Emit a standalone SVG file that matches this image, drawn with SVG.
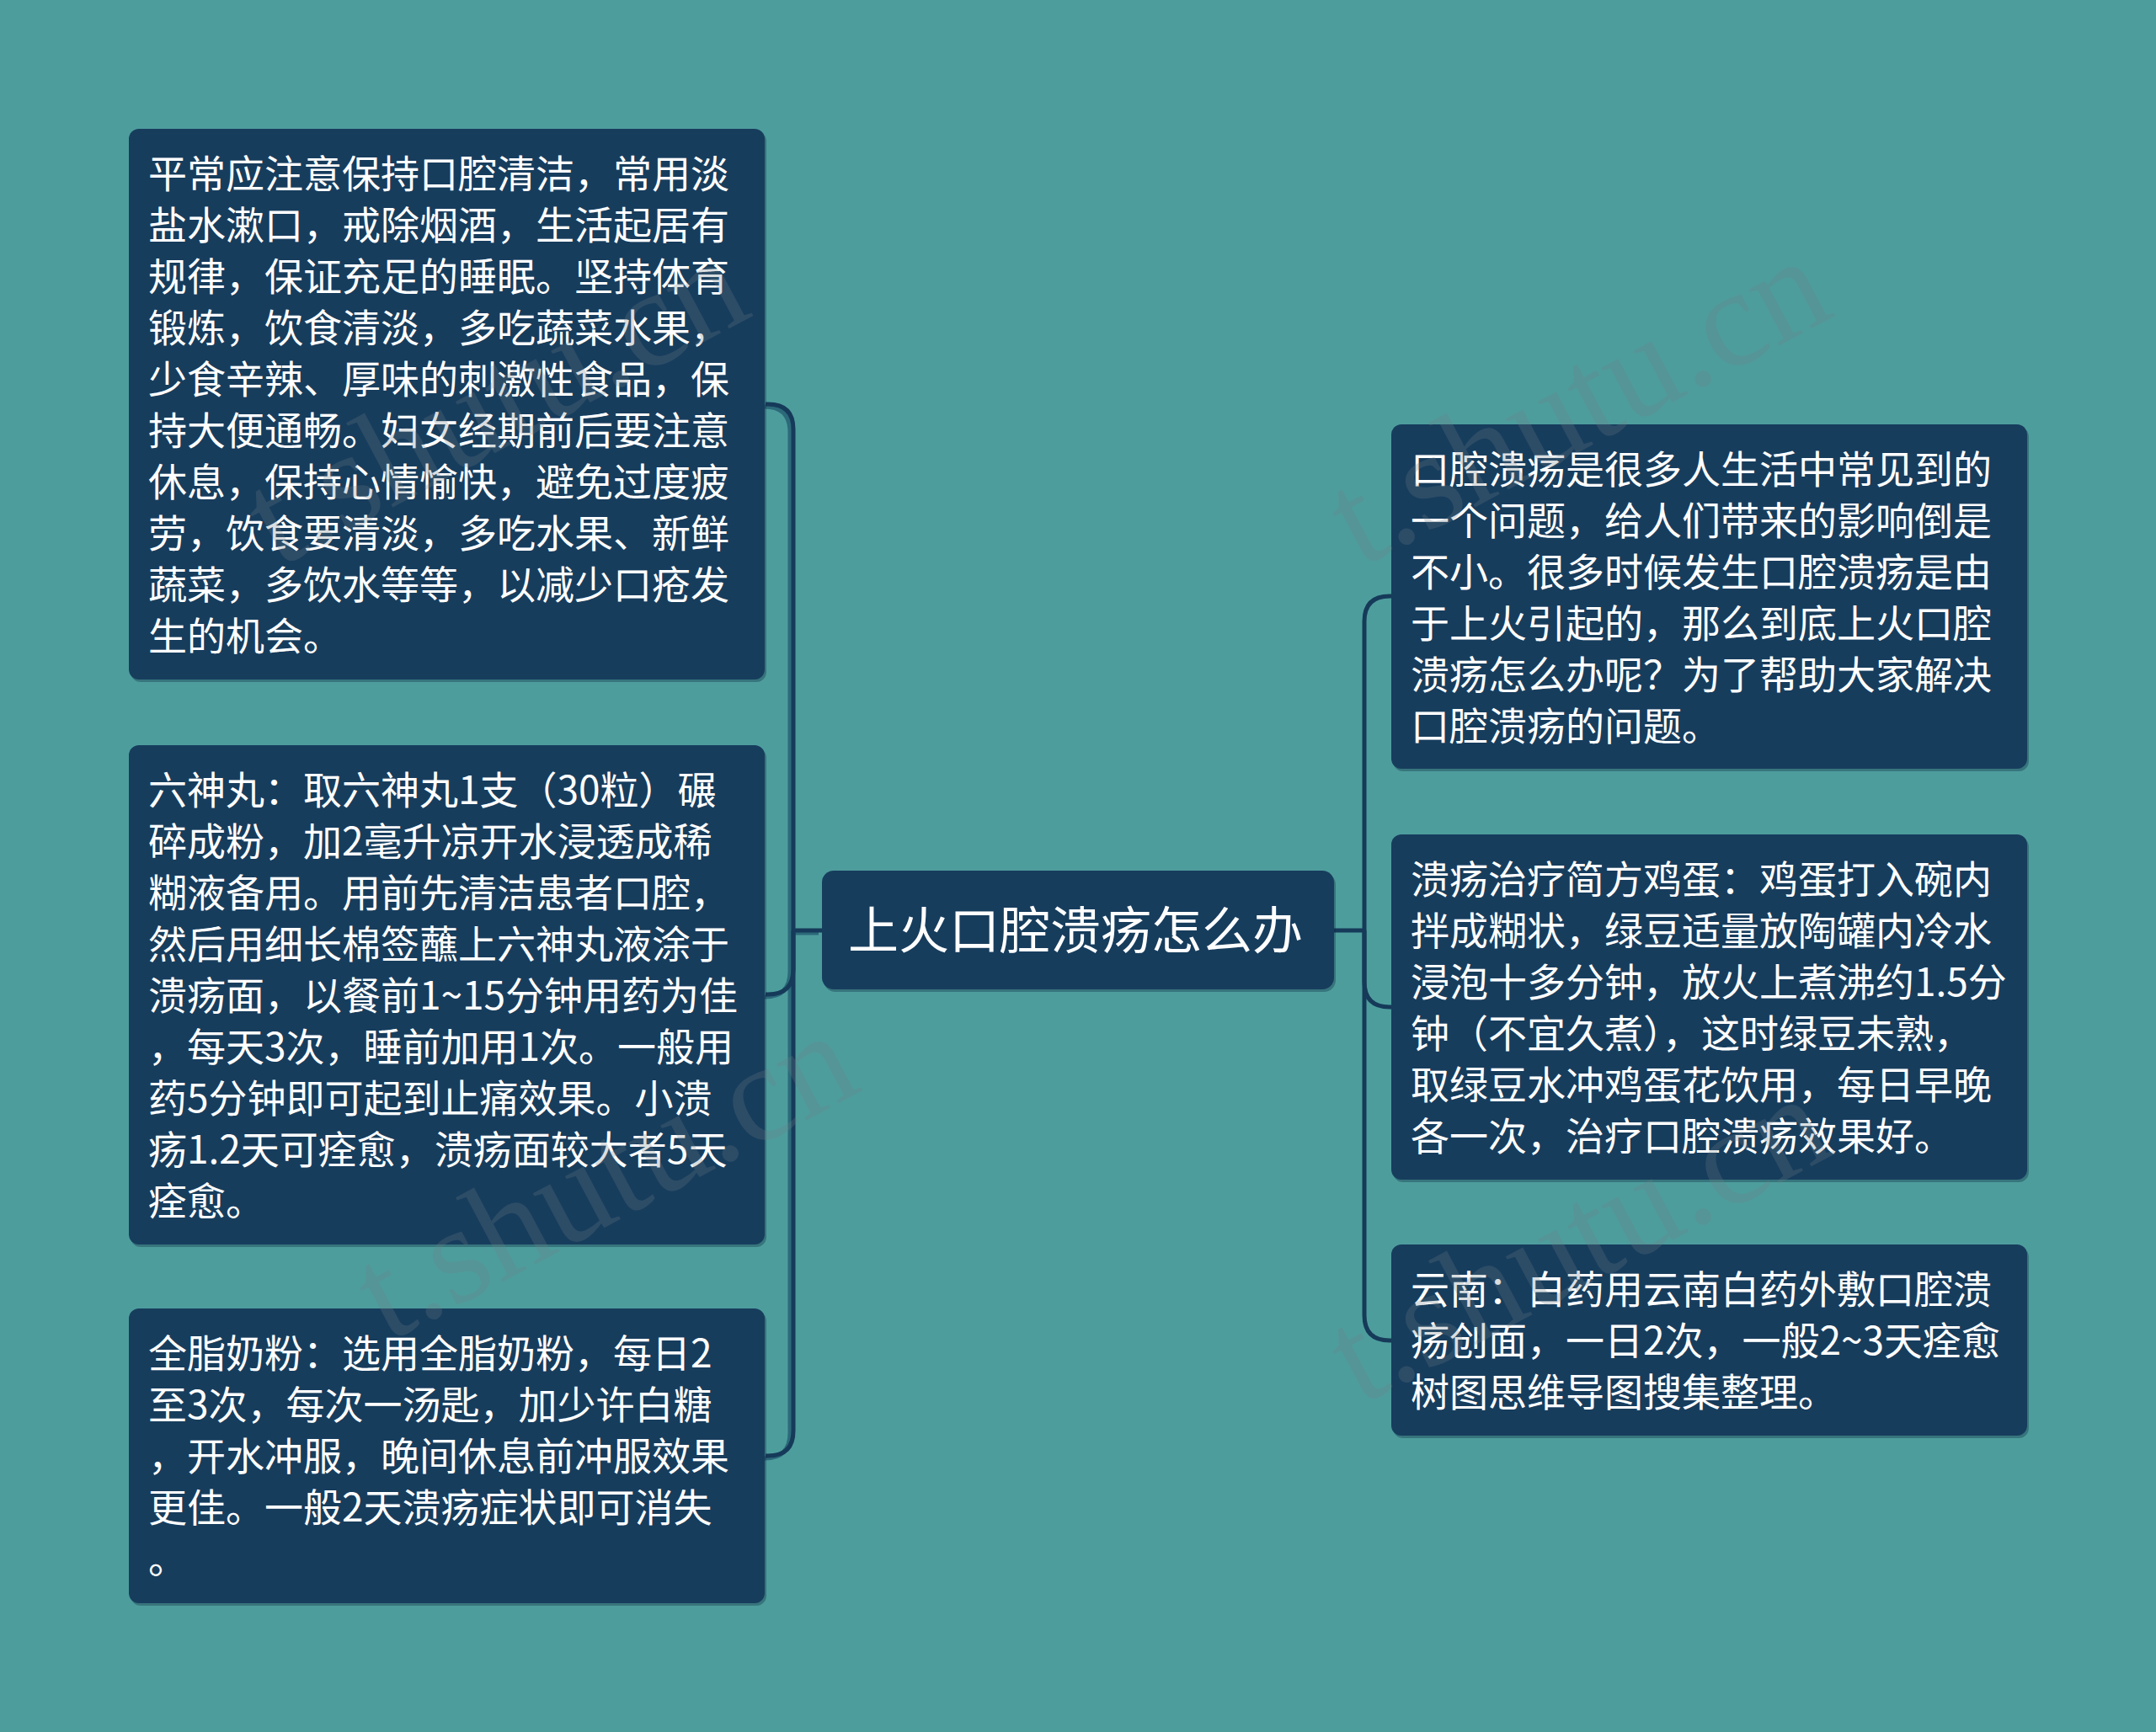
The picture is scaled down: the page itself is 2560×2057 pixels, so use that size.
<svg xmlns="http://www.w3.org/2000/svg" width="2560" height="2057" viewBox="0 0 2560 2057">
<style>
.bg{fill:#4e9d9d}
.node{fill:#173d5d}
.shadow{fill:#0f2a40;opacity:0.35}
.t{font-family:"Noto Sans CJK SC","Noto Sans",sans-serif;font-size:46px;fill:#ffffff}
.tc{font-family:"Noto Sans CJK SC","Noto Sans",sans-serif;font-size:60px;fill:#ffffff;text-anchor:middle}
.c{fill:none;stroke:#163a59;stroke-width:5}
.cs{fill:none;stroke:#2c6a7a;stroke-width:5}
.wm{font-family:"Liberation Serif",serif;font-size:165px;fill:#6e7e86;opacity:0.25}
</style>
<rect class="bg" x="0" y="0" width="2560" height="2057"/>
<g id="connectors">
<g transform="translate(-4,3)">
<path class="cs" d="M976,1105 H942 M942,1105 V510 Q942,480 912,480 H909 M942,1105 V1151 Q942,1181 912,1181 H909 M942,1105 V1699 Q942,1729 912,1729 H909"/>
</g>
<path class="c" d="M976,1105 H942"/>
<path class="c" d="M942,1105 V510 Q942,480 912,480 H909"/>
<path class="c" d="M942,1105 V1151 Q942,1181 912,1181 H909"/>
<path class="c" d="M942,1105 V1699 Q942,1729 912,1729 H909"/>
<path class="c" d="M1584,1105 H1620"/>
<path class="c" d="M1620,1105 V738 Q1620,708 1650,708 H1652"/>
<path class="c" d="M1620,1105 V1166 Q1620,1196 1650,1196 H1652"/>
<path class="c" d="M1620,1105 V1562 Q1620,1592 1650,1592 H1652"/>
</g>
<g id="center">
<rect class="shadow" x="978" y="1037" width="608" height="141" rx="14"/>
<rect class="node" x="976" y="1034" width="608" height="141" rx="14"/>
<text class="tc" x="1277" y="1127">上火口腔溃疡怎么办</text>
</g>
<g id="left1">
<rect class="shadow" x="155" y="156" width="755" height="654" rx="12"/>
<rect class="node" x="153" y="153" width="755" height="654" rx="12"/>
<text class="t" x="176">
<tspan x="176" y="223">平常应注意保持口腔清洁，常用淡</tspan>
<tspan x="176" y="284">盐水漱口，戒除烟酒，生活起居有</tspan>
<tspan x="176" y="345">规律，保证充足的睡眠。坚持体育</tspan>
<tspan x="176" y="406">锻炼，饮食清淡，多吃蔬菜水果，</tspan>
<tspan x="176" y="467">少食辛辣、厚味的刺激性食品，保</tspan>
<tspan x="176" y="528">持大便通畅。妇女经期前后要注意</tspan>
<tspan x="176" y="589">休息，保持心情愉快，避免过度疲</tspan>
<tspan x="176" y="650">劳，饮食要清淡，多吃水果、新鲜</tspan>
<tspan x="176" y="711">蔬菜，多饮水等等，以减少口疮发</tspan>
<tspan x="176" y="772">生的机会。</tspan>
</text>
</g>
<g id="left2">
<rect class="shadow" x="155" y="888" width="755" height="593" rx="12"/>
<rect class="node" x="153" y="885" width="755" height="593" rx="12"/>
<text class="t" x="176">
<tspan x="176" y="955">六神丸：取六神丸1支（30粒）碾</tspan>
<tspan x="176" y="1016">碎成粉，加2毫升凉开水浸透成稀</tspan>
<tspan x="176" y="1077">糊液备用。用前先清洁患者口腔，</tspan>
<tspan x="176" y="1138">然后用细长棉签蘸上六神丸液涂于</tspan>
<tspan x="176" y="1199">溃疡面，以餐前1~15分钟用药为佳</tspan>
<tspan x="176" y="1260">，每天3次，睡前加用1次。一般用</tspan>
<tspan x="176" y="1321">药5分钟即可起到止痛效果。小溃</tspan>
<tspan x="176" y="1382">疡1.2天可痊愈，溃疡面较大者5天</tspan>
<tspan x="176" y="1443">痊愈。</tspan>
</text>
</g>
<g id="left3">
<rect class="shadow" x="155" y="1557" width="755" height="350" rx="12"/>
<rect class="node" x="153" y="1554" width="755" height="350" rx="12"/>
<text class="t" x="176">
<tspan x="176" y="1624">全脂奶粉：选用全脂奶粉，每日2</tspan>
<tspan x="176" y="1685">至3次，每次一汤匙，加少许白糖</tspan>
<tspan x="176" y="1746">，开水冲服，晚间休息前冲服效果</tspan>
<tspan x="176" y="1807">更佳。一般2天溃疡症状即可消失</tspan>
<tspan x="176" y="1868">。</tspan>
</text>
</g>
<g id="right1">
<rect class="shadow" x="1654" y="507" width="755" height="409" rx="12"/>
<rect class="node" x="1652" y="504" width="755" height="409" rx="12"/>
<text class="t" x="1675">
<tspan x="1675" y="574">口腔溃疡是很多人生活中常见到的</tspan>
<tspan x="1675" y="635">一个问题，给人们带来的影响倒是</tspan>
<tspan x="1675" y="696">不小。很多时候发生口腔溃疡是由</tspan>
<tspan x="1675" y="757">于上火引起的，那么到底上火口腔</tspan>
<tspan x="1675" y="818">溃疡怎么办呢？为了帮助大家解决</tspan>
<tspan x="1675" y="879">口腔溃疡的问题。</tspan>
</text>
</g>
<g id="right2">
<rect class="shadow" x="1654" y="994" width="755" height="410" rx="12"/>
<rect class="node" x="1652" y="991" width="755" height="410" rx="12"/>
<text class="t" x="1675">
<tspan x="1675" y="1061">溃疡治疗简方鸡蛋：鸡蛋打入碗内</tspan>
<tspan x="1675" y="1122">拌成糊状，绿豆适量放陶罐内冷水</tspan>
<tspan x="1675" y="1183">浸泡十多分钟，放火上煮沸约1.5分</tspan>
<tspan x="1675" y="1244">钟（不宜久煮），这时绿豆未熟，</tspan>
<tspan x="1675" y="1305">取绿豆水冲鸡蛋花饮用，每日早晚</tspan>
<tspan x="1675" y="1366">各一次，治疗口腔溃疡效果好。</tspan>
</text>
</g>
<g id="right3">
<rect class="shadow" x="1654" y="1481" width="755" height="227" rx="12"/>
<rect class="node" x="1652" y="1478" width="755" height="227" rx="12"/>
<text class="t" x="1675">
<tspan x="1675" y="1548">云南：白药用云南白药外敷口腔溃</tspan>
<tspan x="1675" y="1609">疡创面，一日2次，一般2~3天痊愈</tspan>
<tspan x="1675" y="1670">树图思维导图搜集整理。</tspan>
</text>
</g>
<g id="watermark">
<text class="wm" x="330" y="675" transform="rotate(-28 330 675)">t.shutu.cn</text>
<text class="wm" x="1615" y="675" transform="rotate(-28 1615 675)">t.shutu.cn</text>
<text class="wm" x="460" y="1595" transform="rotate(-28 460 1595)">t.shutu.cn</text>
<text class="wm" x="1615" y="1670" transform="rotate(-28 1615 1670)">t.shutu.cn</text>
</g>
</svg>
